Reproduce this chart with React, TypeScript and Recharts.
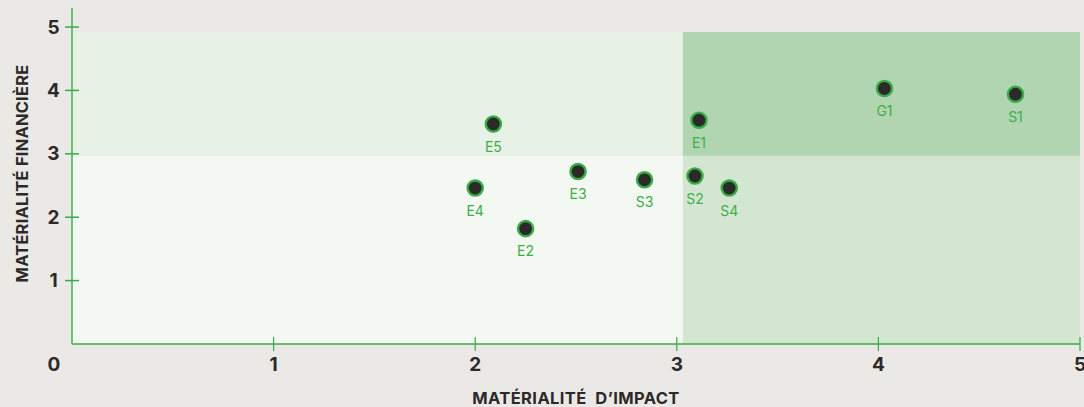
import {
  ReferenceArea,
  Scatter,
  ScatterChart,
  XAxis,
  YAxis,
} from "recharts";

// topics: name, impact materiality (x), financial materiality (y)
const NAMES = ["E1", "E2", "E3", "E4", "E5", "S1", "S2", "S3", "S4", "G1"];
const IMPACT = [3.11, 2.25, 2.51, 2.0, 2.09, 4.68, 3.09, 2.84, 3.26, 4.03];
const FINANCIAL = [3.53, 1.82, 2.72, 2.46, 3.47, 3.94, 2.65, 2.59, 2.46, 4.03];

const X_TICKS = [0, 1, 2, 3, 4, 5];
const Y_TICKS = [1, 2, 3, 4, 5];

// quadrant bounds (x from/to, y from/to)
const QUAD_X = [0, 3.03, 5];
const QUAD_Y = [0, 2.97, 4.92];

const BG = "#ebe9e6";
const GREEN = "#38aa46";
const DARK = "#2c2a28";
const QUAD_FILL = [
  ["#f3f8f3", "#d3e7d0"], // bottom-left, bottom-right
  ["#e8f1e6", "#b1d5b0"], // top-left, top-right
];
const FONT = "Inter, 'Liberation Sans', Arial, sans-serif";

const points = NAMES.map((name, i) => ({ name, x: IMPACT[i], y: FINANCIAL[i] }));

function XTick(props: any) {
  const { x, y, payload } = props;
  if (payload.value === 0) {
    return (
      <text x={x - 18} y={y + 20} textAnchor="middle" dominantBaseline="central" fontFamily={FONT} fontWeight={700} fontSize={19} fill={DARK}>
        0
      </text>
    );
  }
  return (
    <g>
      <line x1={x} x2={x} y1={y - 7} y2={y + 7} stroke={GREEN} strokeWidth={1.2} />
      <text x={x} y={y + 20} textAnchor="middle" dominantBaseline="central" fontFamily={FONT} fontWeight={700} fontSize={19} fill={DARK}>
        {payload.value}
      </text>
    </g>
  );
}

function YTick(props: any) {
  const { x, y, payload } = props;
  return (
    <g>
      <line x1={x - 7} x2={x + 7} y1={y} y2={y} stroke={GREEN} strokeWidth={1.5} />
      <text x={x - 18.5} y={y} textAnchor="middle" dominantBaseline="central" fontFamily={FONT} fontWeight={700} fontSize={19} fill={DARK}>
        {payload.value}
      </text>
    </g>
  );
}

function Dot(props: any) {
  const { cx, cy, payload } = props;
  return (
    <g>
      <circle cx={cx} cy={cy} r={7.6} fill={DARK} stroke={GREEN} strokeWidth={2.4} />
      <text x={cx} y={cy + 22} textAnchor="middle" dominantBaseline="central" fontFamily={FONT} fontSize={14} fill="#3cae4a">
        {payload.name}
      </text>
    </g>
  );
}

export default function App() {
  return (
    <div style={{ position: "fixed", left: 0, top: 0, width: 1084, height: 407, background: BG }}>
      <ScatterChart width={1084} height={407} margin={{ top: 8, right: 4, left: 12, bottom: 23 }}>
        {QUAD_Y.slice(0, 2).map((y1, r) =>
          QUAD_X.slice(0, 2).map((x1, c) => (
            <ReferenceArea
              key={`${r}-${c}`}
              x1={x1}
              x2={QUAD_X[c + 1]}
              y1={y1}
              y2={QUAD_Y[r + 1]}
              fill={QUAD_FILL[r][c]}
              fillOpacity={1}
              stroke="none"
            />
          ))
        )}
        <XAxis
          type="number"
          dataKey="x"
          domain={[0, 5]}
          ticks={X_TICKS}
          height={40}
          tickSize={0}
          tickMargin={0}
          tickLine={false}
          axisLine={{ stroke: GREEN, strokeWidth: 1.6 }}
          tick={<XTick />}
          label={{
            content: (p: any) => (
              <text
                x={p.viewBox.x + p.viewBox.width / 2}
                y={p.viewBox.y + 54}
                textAnchor="middle"
                dominantBaseline="central"
                fontFamily={FONT}
                fontWeight={700}
                fontSize={16.5}
                letterSpacing={0.4}
                fill={DARK}
                style={{ whiteSpace: "pre" }}
              >
                MATÉRIALITÉ  D’IMPACT
              </text>
            ),
          }}
        />
        <YAxis
          type="number"
          dataKey="y"
          domain={[0, 5.3]}
          ticks={Y_TICKS}
          width={60}
          tickSize={0}
          tickMargin={0}
          tickLine={false}
          axisLine={{ stroke: "#6cc078", strokeWidth: 2 }}
          tick={<YTick />}
          label={{
            content: () => (
              <text
                x={22}
                y={173.5}
                transform="rotate(-90 22 173.5)"
                textAnchor="middle"
                dominantBaseline="central"
                fontFamily={FONT}
                fontWeight={700}
                fontSize={16.5}
                letterSpacing={0.2}
                fill={DARK}
              >
                MATÉRIALITÉ FINANCIÈRE
              </text>
            ),
          }}
        />
        <Scatter data={points} shape={<Dot />} isAnimationActive={false} />
      </ScatterChart>
    </div>
  );
}
